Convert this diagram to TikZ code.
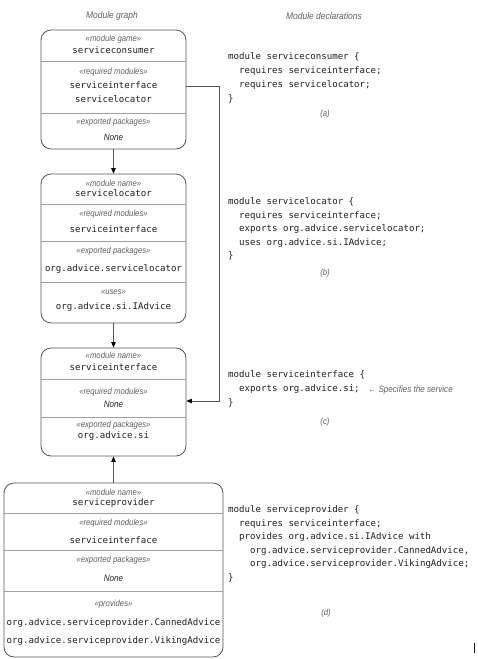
\documentclass[tikz,border=0pt]{standalone}
\usepackage{fontspec}
\setmainfont{Liberation Sans}
\newfontfamily\lblfont[FakeStretch=0.88]{Liberation Sans}
\newfontfamily\codefont{DejaVu Sans Mono}
\usetikzlibrary{arrows.meta}
\definecolor{boxline}{HTML}{555555}
\definecolor{divline}{HTML}{A0A0A0}
\definecolor{lblgray}{HTML}{606060}
\definecolor{codeblack}{HTML}{202020}
\tikzset{
  modbox/.style={draw=boxline, line width=0.8pt, rounded corners=10pt, inner sep=0pt},
  stereo/.style={font=\lblfont\itshape\fontsize{8.8}{9}\selectfont, text=lblgray, inner sep=0pt, text height=6pt, text depth=1.6pt},
  mono/.style={font=\codefont\fontsize{9.1}{11}\selectfont, text=codeblack, inner sep=0pt, text height=6.6pt, text depth=1.6pt},
  nonetxt/.style={font=\lblfont\itshape\fontsize{9.2}{10}\selectfont, text=black!85, inner sep=0pt, text height=6.5pt, text depth=0pt},
  heading/.style={font=\lblfont\itshape\fontsize{9.6}{11}\selectfont, text=lblgray, inner sep=0pt},
  captiontxt/.style={font=\lblfont\itshape\fontsize{8.8}{10}\selectfont, text=lblgray, inner sep=0pt},
  notetxt/.style={font=\lblfont\itshape\fontsize{9.2}{10}\selectfont, text=lblgray, inner sep=0pt},
  divider/.style={draw=divline, line width=0.6pt},
  conn/.style={draw=boxline, line width=0.7pt, -{Triangle[length=5.5pt,width=4.5pt,color=black]}},
}
\begin{document}
\begin{tikzpicture}[x=1pt,y=-1pt]
\fill[white] (0,0) rectangle (477,659);
\useasboundingbox (0,0) rectangle (477,659);

% headings
\node[heading] (hg) at (112,16) {Module graph};
\node[heading] (hd) at (324,16) {Module declarations};

% boxes
\node[modbox, minimum width=145pt, minimum height=119pt] (b1) at (113.5,89.5) {};
\node[modbox, minimum width=145pt, minimum height=149pt] (b2) at (113.5,248.5) {};
\node[modbox, minimum width=145pt, minimum height=108pt] (b3) at (113.5,402) {};
\node[modbox, minimum width=219pt, minimum height=174pt] (b4) at (113.5,570) {};

% dividers
\draw[divider] (b1.west |- 0,61) -- (b1.east |- 0,61);
\draw[divider] (b1.west |- 0,113) -- (b1.east |- 0,113);
\draw[divider] (b2.west |- 0,204) -- (b2.east |- 0,204);
\draw[divider] (b2.west |- 0,241) -- (b2.east |- 0,241);
\draw[divider] (b2.west |- 0,282) -- (b2.east |- 0,282);
\draw[divider] (b3.west |- 0,379) -- (b3.east |- 0,379);
\draw[divider] (b3.west |- 0,417) -- (b3.east |- 0,417);
\draw[divider] (b4.west |- 0,513) -- (b4.east |- 0,513);
\draw[divider] (b4.west |- 0,550) -- (b4.east |- 0,550);
\draw[divider] (b4.west |- 0,591) -- (b4.east |- 0,591);

% box 1
\node[stereo] (b1s1) at (113.5,39) {«module game»};
\node[mono] (b1t1) at (113.5,51) {serviceconsumer};
\node[stereo] (b1s2) at (113.5,72) {«required modules»};
\node[mono] (b1t2) at (113.5,86) {serviceinterface};
\node[mono] (b1t3) at (113.5,100) {servicelocator};
\node[stereo] (b1s3) at (113.5,122) {«exported packages»};
\node[nonetxt] (b1t4) at (113.5,137) {None};

% box 2
\node[stereo] (b2s1) at (113.5,184) {«module name»};
\node[mono] (b2t1) at (113.5,194) {servicelocator};
\node[stereo] (b2s2) at (113.5,214) {«required modules»};
\node[mono] (b2t2) at (113.5,230) {serviceinterface};
\node[stereo] (b2s3) at (113.5,251) {«exported packages»};
\node[mono] (b2t3) at (113.5,269) {org.advice.servicelocator};
\node[stereo] (b2s4) at (113.5,292) {«uses»};
\node[mono] (b2t4) at (113.5,307) {org.advice.si.IAdvice};

% box 3
\node[stereo] (b3s1) at (113.5,356) {«module name»};
\node[mono] (b3t1) at (113.5,368) {serviceinterface};
\node[stereo] (b3s2) at (113.5,392) {«required modules»};
\node[nonetxt] (b3t2) at (113.5,404) {None};
\node[stereo] (b3s3) at (113.5,425) {«exported packages»};
\node[mono] (b3t3) at (113.5,436) {org.advice.si};

% box 4
\node[stereo] (b4s1) at (113.5,493) {«module name»};
\node[mono] (b4t1) at (113.5,503) {serviceprovider};
\node[stereo] (b4s2) at (113.5,523) {«required modules»};
\node[mono] (b4t2) at (113.5,541) {serviceinterface};
\node[stereo] (b4s3) at (113.5,560) {«exported packages»};
\node[nonetxt] (b4t3) at (113.5,578) {None};
\node[stereo] (b4s4) at (113.5,604) {«provides»};
\node[mono] (b4t4) at (113.5,623) {org.advice.serviceprovider.CannedAdvice};
\node[mono] (b4t5) at (113.5,641) {org.advice.serviceprovider.VikingAdvice};

% connectors
\draw[conn] (b1.south) -- (b2.north);
\draw[conn] (b2.south) -- (b3.north);
\draw[conn] (b4.north) -- (b3.south);
\coordinate (k1) at (219,86);
\coordinate (k2) at (219,401);
\draw[conn] (b1.east |- k1) -- (k1) -- (k2) -- (b3.east |- k2);

% code (a)
\node[mono, anchor=west] (ca1) at (228,57) {module serviceconsumer \{};
\node[mono, anchor=west] (ca2) at (239,71) {requires serviceinterface;};
\node[mono, anchor=west] (ca3) at (239,85) {requires servicelocator;};
\node[mono, anchor=west] (ca4) at (228,99) {\}};
\node[captiontxt] (cap1) at (325,114) {(a)};

% code (b)
\node[mono, anchor=west] (cb1) at (228,202) {module servicelocator \{};
\node[mono, anchor=west] (cb2) at (239,215.6) {requires serviceinterface;};
\node[mono, anchor=west] (cb3) at (239,229.2) {exports org.advice.servicelocator;};
\node[mono, anchor=west] (cb4) at (239,242.8) {uses org.advice.si.IAdvice;};
\node[mono, anchor=west] (cb5) at (228,256.4) {\}};
\node[captiontxt] (cap2) at (325,273) {(b)};

% code (c)
\node[mono, anchor=west] (cc1) at (228,375) {module serviceinterface \{};
\node[mono, anchor=west] (cc2) at (239,389) {exports org.advice.si;};
\node[mono, anchor=west] (cc3) at (228,403) {\}};
\node[notetxt, anchor=west] (note) at (368,390) {← Specifies the service};
\node[captiontxt] (cap3) at (325,422) {(c)};

% code (d)
\node[mono, anchor=west] (cd1) at (228,510) {module serviceprovider \{};
\node[mono, anchor=west] (cd2) at (239,523.6) {requires serviceinterface;};
\node[mono, anchor=west] (cd3) at (239,537.2) {provides org.advice.si.IAdvice with};
\node[mono, anchor=west] (cd4) at (250,550.8) {org.advice.serviceprovider.CannedAdvice,};
\node[mono, anchor=west] (cd5) at (250,564.4) {org.advice.serviceprovider.VikingAdvice;};
\node[mono, anchor=west] (cd6) at (228,578) {\}};
\node[captiontxt] (cap4) at (326,613) {(d)};

% stray tick
\draw[line width=0.8pt, black] (474,643) -- (474,653);
\end{tikzpicture}
\end{document}
